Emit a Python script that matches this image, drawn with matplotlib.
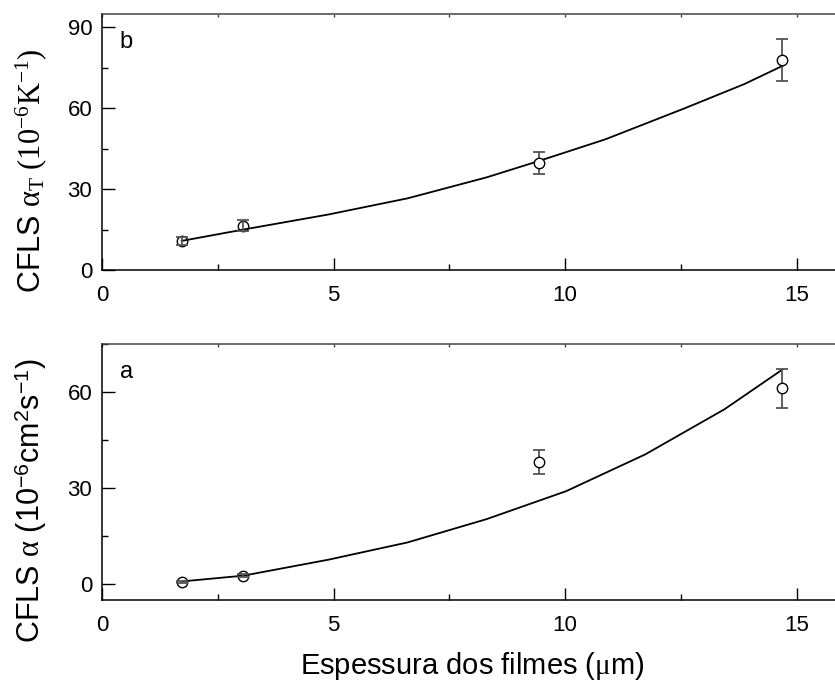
import matplotlib
matplotlib.use("Agg")
import matplotlib.pyplot as plt
from matplotlib.ticker import MultipleLocator, NullFormatter

plt.rcParams['font.family'] = ['Liberation Sans', 'DejaVu Sans']
plt.rcParams['mathtext.fontset'] = 'custom'
plt.rcParams['mathtext.rm'] = 'Liberation Serif'
plt.rcParams['mathtext.it'] = 'Liberation Serif:italic'
plt.rcParams['mathtext.sf'] = 'Liberation Sans'

# film thickness (um)
thick = [1.72, 3.05, 9.44, 14.69]

# panel b: thermal expansion
alphaT = [10.9, 16.4, 39.7, 77.8]
alphaT_err = [1.5, 2.0, 4.0, 7.8]
fitT_x = [1.72, 3.05, 4.89, 6.60, 8.31, 9.46, 10.87, 12.58, 13.87, 14.70]
fitT_y = [10.8, 15.0, 20.6, 26.6, 34.4, 40.6, 48.5, 60.0, 69.0, 75.8]

# panel a: thermal diffusivity
alpha = [0.6, 2.6, 38.1, 61.2]
alpha_err = [0.4, 0.4, 3.8, 6.1]
fitA_x = [1.72, 3.05, 4.89, 6.60, 8.31, 10.02, 11.73, 13.44, 14.70]
fitA_y = [0.8, 2.6, 7.6, 13.0, 20.3, 29.0, 40.5, 54.6, 67.1]

W, H = 835, 689
fig = plt.figure(figsize=(W / 100, H / 100), dpi=100)
axb = fig.add_axes([102 / W, (H - 270) / H, 741 / W, 256 / H])
axa = fig.add_axes([102 / W, (H - 600) / H, 741 / W, 256 / H])


def draw(ax, y, yerr, fx, fy, ylim, letter, ylabel):
    ax.plot(fx, fy, color='black', lw=1.3, zorder=2)
    for xi, yi, ei in zip(thick, y, yerr):
        small = ei < 2.5
        ax.errorbar(xi, yi, yerr=ei, fmt='none', ecolor='#555555', elinewidth=1.3,
                    capsize=4.5, capthick=1.3, zorder=4 if small else 2.5)
        ax.plot(xi, yi, 'o', ms=7.5, mec='black', mew=1.0,
                mfc='none' if small else 'white', zorder=3)
    ax.set_xlim(0, 16)
    ax.set_ylim(*ylim)
    ax.xaxis.set_major_locator(MultipleLocator(5))
    ax.xaxis.set_minor_locator(MultipleLocator(2.5))
    ax.yaxis.set_major_locator(MultipleLocator(30))
    ax.yaxis.set_minor_locator(MultipleLocator(15))
    ax.tick_params(which='both', direction='in', top=False, right=False, labelsize=16)
    ax.tick_params(axis='x', which='major', length=9, width=1.0, pad=11)
    ax.tick_params(axis='x', which='minor', length=4.5, width=1.0)
    ax.tick_params(axis='y', which='major', length=9, width=1.0, pad=7)
    ax.tick_params(axis='y', which='minor', length=4.5, width=1.0)
    ax.spines['right'].set_visible(False)
    for s in ['left', 'bottom', 'top']:
        ax.spines[s].set_linewidth(1.1)
    ax.spines['top'].set_color('#444444')

    # short ticks on the top spine
    top = ax.secondary_xaxis('top')
    top.xaxis.set_major_locator(MultipleLocator(2.5))
    top.xaxis.set_major_formatter(NullFormatter())
    top.tick_params(direction='in', length=2.5, width=1.0, colors='#444444')
    top.spines['top'].set_visible(False)

    ax.text(0.024, 0.868, letter, transform=ax.transAxes, fontsize=17, va='baseline')
    ax.set_ylabel(ylabel, fontsize=22)
    ax.yaxis.set_label_coords(-0.072, 0.39)


draw(axb, alphaT, alphaT_err, fitT_x, fitT_y, (0, 95), 'b',
     'CFLS $\\mathrm{\\alpha_T}\\ \\mathrm{(10^{-6}K^{-1})}$')
draw(axa, alpha, alpha_err, fitA_x, fitA_y, (-5, 75), 'a',
     'CFLS $\\mathrm{\\alpha}$ (10$^{\\mathsf{-6}}$cm$^{\\mathsf{2}}$s$^{\\mathsf{-1}}$)')

axa.set_xlabel('Espessura dos filmes ($\\mathrm{\\mu}$m)', fontsize=21, labelpad=10)

fig.savefig('out.png', dpi=100)
